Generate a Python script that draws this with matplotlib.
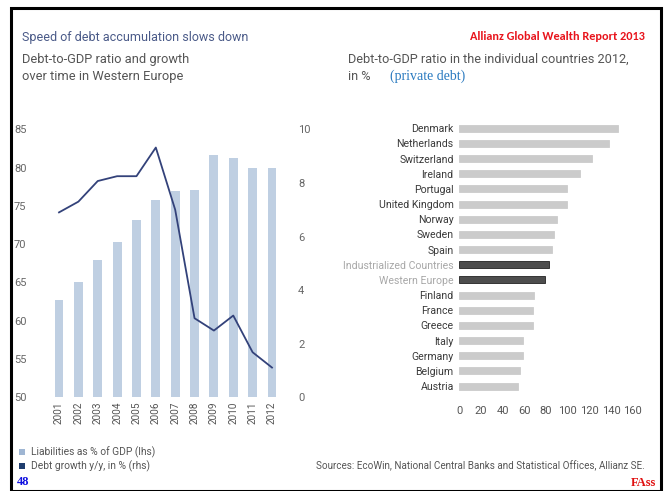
import matplotlib
matplotlib.use("Agg")
import matplotlib.pyplot as plt
from matplotlib.patches import Rectangle

years = ["2001", "2002", "2003", "2004", "2005", "2006", "2007", "2008", "2009", "2010", "2011", "2012"]
liabilities = [62.7, 65.0, 67.9, 70.3, 73.1, 75.8, 76.9, 77.1, 81.7, 81.2, 80.0, 79.9]
debt_growth = [6.9, 7.3, 8.07, 8.25, 8.25, 9.32, 7.0, 2.95, 2.49, 3.05, 1.68, 1.11]

countries = ["Denmark", "Netherlands", "Switzerland", "Ireland", "Portugal", "United Kingdom",
             "Norway", "Sweden", "Spain", "Industrialized Countries", "Western Europe",
             "Finland", "France", "Greece", "Italy", "Germany", "Belgium", "Austria"]
ratios = [146.7, 137.8, 122.7, 111.3, 99.7, 99.1, 90.5, 87.2, 85.3, 82.8, 79.4,
          69.0, 68.3, 67.8, 58.6, 58.6, 56.4, 54.0]
highlight = ["Industrialized Countries", "Western Europe"]

W, H = 669, 491
fig = plt.figure(figsize=(W / 100, H / 100), dpi=100)
fig.patch.set_facecolor("white")

FONT = "Roboto"
TXT = "#555555"

def fx(px):
    return px / W

def fy(py):
    return 1 - py / H

# frame
fig.add_artist(Rectangle((fx(11), fy(491)), fx(650), (491 - 8) / H, transform=fig.transFigure,
                         fill=False, edgecolor="black", linewidth=2.2))

# ---------- left chart ----------
axL = fig.add_axes([fx(47.4), fy(397.3), fx(283.6 - 47.4), (397.3 - 129.3) / H])
x = list(range(len(years)))
axL.bar(x, [v - 50 for v in liabilities], bottom=50, width=0.46, color="#bfcfe2", zorder=1)
axL.set_ylim(50, 85)
axL.set_xlim(-0.6, len(years) - 0.4)
axL.set_yticks([50, 55, 60, 65, 70, 75, 80, 85])
axL.set_xticks(x)
axL.set_xticklabels(years, rotation=90, fontsize=7.2, color=TXT, family=FONT)
axL.tick_params(axis="y", length=0, pad=15, labelsize=8, labelcolor="#666666")
axL.tick_params(axis="x", length=0, pad=3)
for lab in axL.get_yticklabels():
    lab.set_family(FONT)
for s in axL.spines.values():
    s.set_visible(False)

axR = axL.twinx()
axR.plot(x, debt_growth, color="#33427a", linewidth=1.3, zorder=3)
axR.set_ylim(0, 10)
axR.set_yticks([0, 2, 4, 6, 8, 10])
axR.tick_params(axis="y", length=0, pad=10.5, labelsize=8, labelcolor="#666666")
for lab in axR.get_yticklabels():
    lab.set_family(FONT)
for s in axR.spines.values():
    s.set_visible(False)

# ---------- right chart ----------
axC = fig.add_axes([fx(459.3), fy(393.6), fx(632.7 - 459.3), (393.6 - 120.7) / H])
yy = list(range(len(countries)))
cols = ["#4d4d4d" if c in highlight else "#cbcbcb" for c in countries]
edges = ["#222222" if c in highlight else "#cbcbcb" for c in countries]
axC.barh(yy, ratios, height=0.46, color=cols, edgecolor=edges, linewidth=0.6)
axC.set_ylim(len(countries) - 0.5, -0.5)
axC.set_xlim(0, 160)
axC.set_yticks(yy)
axC.set_yticklabels(countries, fontsize=7.6, family=FONT)
for lab, c in zip(axC.get_yticklabels(), countries):
    lab.set_color("#a8a8a8" if c in highlight else "#3a3a3a")
axC.set_xticks([0, 20, 40, 60, 80, 100, 120, 140, 160])
axC.tick_params(axis="x", length=0, pad=9, labelsize=8, labelcolor=TXT)
axC.tick_params(axis="y", length=0, pad=4)
for lab in axC.get_xticklabels():
    lab.set_family(FONT)
for s in axC.spines.values():
    s.set_visible(False)

# ---------- texts ----------
fig.text(fx(22), fy(37), "Speed of debt accumulation slows down", fontsize=9.0, color="#4a5a88",
         family=FONT, va="center", ha="left")
fig.text(fx(645), fy(36), "Allianz Global Wealth Report 2013", fontsize=8.8, color="#e8141c",
         family=["Carlito", "Liberation Sans"], weight="bold", va="center", ha="right")
fig.text(fx(22), fy(59), "Debt-to-GDP ratio and growth", fontsize=9.3,
         color=TXT, family=FONT, va="center", ha="left")
fig.text(fx(22), fy(77), "over time in Western Europe", fontsize=9.3,
         color=TXT, family=FONT, va="center", ha="left")
fig.text(fx(348), fy(59), "Debt-to-GDP ratio in the individual countries 2012,", fontsize=9.2,
         color=TXT, family=FONT, va="center", ha="left")
fig.text(fx(348), fy(77), "in %", fontsize=9.2,
         color=TXT, family=FONT, va="center", ha="left")
fig.text(fx(390), fy(76), "(private debt)", fontsize=10, color="#2a7ac0",
         family="Liberation Serif", va="center", ha="left")

# legend
fig.add_artist(Rectangle((fx(19), fy(455)), fx(6), 6 / H, transform=fig.transFigure,
                         facecolor="#9fb6d3", edgecolor="none"))
fig.add_artist(Rectangle((fx(19), fy(469)), fx(6), 6 / H, transform=fig.transFigure,
                         facecolor="#1f3d6e", edgecolor="none"))
fig.text(fx(31), fy(452), "Liabilities as % of GDP (lhs)", fontsize=7.4, color=TXT, family=FONT,
         va="center", ha="left")
fig.text(fx(31), fy(466), "Debt growth y/y, in % (rhs)", fontsize=7.4, color=TXT, family=FONT,
         va="center", ha="left")
fig.text(fx(645), fy(466), "Sources: EcoWin, National Central Banks and Statistical Offices, Allianz SE.",
         fontsize=7.1, color=TXT, family=FONT, va="center", ha="right")
fig.text(fx(17), fy(482), "48", fontsize=9, color="#1010e0", family="Liberation Serif",
         weight="bold", va="center", ha="left")
fig.text(fx(656), fy(483), "FAss", fontsize=9, color="#e01010", family="Liberation Serif",
         weight="bold", va="center", ha="right")

fig.savefig("out.png", dpi=100)
